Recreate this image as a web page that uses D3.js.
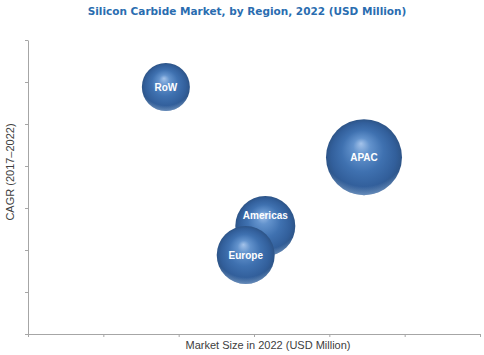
<!DOCTYPE html>
<html>
<head>
<meta charset="utf-8">
<script src="https://cdn.jsdelivr.net/npm/d3@7"></script>
<style>
  body { margin: 0; background: #fff; }
  .axis path, .axis line { stroke: #a6a6a6; stroke-width: 1; }
  .axis text { display: none; }
</style>
</head>
<body>
<div id="chart"></div>
<script>
// Data (axes have no labels, so values are in tick units)
const regions = ["Americas", "Europe", "RoW", "APAC"];
const marketSize = [3.15, 2.89, 1.83, 4.46];   // x, in tick intervals
const cagr = [2.57, 1.88, 5.88, 4.21];         // y, in tick intervals
const bubbleSize = [900, 841, 576, 1444];      // relative market size (area)
const labelShift = [-11, 0, 0, 0];             // label offset inside the bubble

const width = 484, height = 355;
const margin = { top: 40, right: 4, bottom: 21, left: 28 };

const svg = d3.select("#chart").append("svg")
    .attr("width", width)
    .attr("height", height);

// Title
svg.append("text")
    .attr("x", 247)
    .attr("y", 15)
    .attr("text-anchor", "middle")
    .style("font-family", "DejaVu Sans, Verdana, sans-serif")
    .style("font-weight", "bold")
    .style("font-size", "10.5px")
    .style("fill", "#2a6db0")
    .text("Silicon Carbide Market, by Region, 2022 (USD Million)");

// Scales
const x = d3.scaleLinear().domain([0, 6]).range([margin.left, width - margin.right]);
const y = d3.scaleLinear().domain([0, 7]).range([height - margin.bottom, margin.top]);
const r = d3.scaleSqrt().domain([0, 1444]).range([0, 38]);

// Axes
svg.append("g")
    .attr("class", "axis")
    .attr("transform", "translate(0," + (height - margin.bottom) + ")")
    .call(d3.axisBottom(x).ticks(6).tickSize(3).tickSizeOuter(0).tickFormat(""));

svg.append("g")
    .attr("class", "axis")
    .attr("transform", "translate(" + margin.left + ",0)")
    .call(d3.axisLeft(y).ticks(7).tickSize(3).tickSizeOuter(0).tickFormat(""));

// Axis titles
svg.append("text")
    .attr("x", 268)
    .attr("y", 349)
    .attr("text-anchor", "middle")
    .style("font-family", "Liberation Sans, Arial, sans-serif")
    .style("font-size", "11px")
    .style("fill", "#404040")
    .text("Market Size in 2022 (USD Million)");

svg.append("text")
    .attr("transform", "translate(14,172) rotate(-90)")
    .attr("text-anchor", "middle")
    .style("font-family", "Liberation Sans, Arial, sans-serif")
    .style("font-size", "11px")
    .style("fill", "#404040")
    .text("CAGR (2017–2022)");

// Sphere gradients: body shading plus a light rim at the bottom
const defs = svg.append("defs");
const grad = defs.append("radialGradient")
    .attr("id", "sphere")
    .attr("cx", "50%").attr("cy", "50%").attr("r", "50%")
    .attr("fx", "46%").attr("fy", "32%");
grad.append("stop").attr("offset", "0%").attr("stop-color", "#a4c3ea");
grad.append("stop").attr("offset", "22%").attr("stop-color", "#6393cd");
grad.append("stop").attr("offset", "55%").attr("stop-color", "#3f71b0");
grad.append("stop").attr("offset", "85%").attr("stop-color", "#325f9b");
grad.append("stop").attr("offset", "100%").attr("stop-color", "#2d5487");

const rim = defs.append("radialGradient")
    .attr("id", "rim")
    .attr("cx", "50%").attr("cy", "30%").attr("r", "75%");
rim.append("stop").attr("offset", "78%").attr("stop-color", "#9cc0ea").attr("stop-opacity", 0);
rim.append("stop").attr("offset", "94%").attr("stop-color", "#9cc0ea").attr("stop-opacity", 0.55);

const data = regions.map((name, i) => ({
    name: name, x: marketSize[i], y: cagr[i], size: bubbleSize[i], dy: labelShift[i]
}));

// Bubbles
const bubble = svg.selectAll(".bubble")
    .data(data)
    .enter().append("g")
    .attr("class", "bubble")
    .attr("transform", d => "translate(" + x(d.x) + "," + y(d.y) + ")");

bubble.append("circle")
    .attr("r", d => r(d.size))
    .style("fill", "url(#sphere)");

bubble.append("circle")
    .attr("r", d => r(d.size))
    .style("fill", "url(#rim)");

bubble.append("text")
    .attr("y", d => d.dy)
    .attr("dy", "0.35em")
    .attr("text-anchor", "middle")
    .style("font-family", "Liberation Sans, Arial, sans-serif")
    .style("font-weight", "bold")
    .style("font-size", "10px")
    .style("fill", "#ffffff")
    .text(d => d.name);
</script>
</body>
</html>
